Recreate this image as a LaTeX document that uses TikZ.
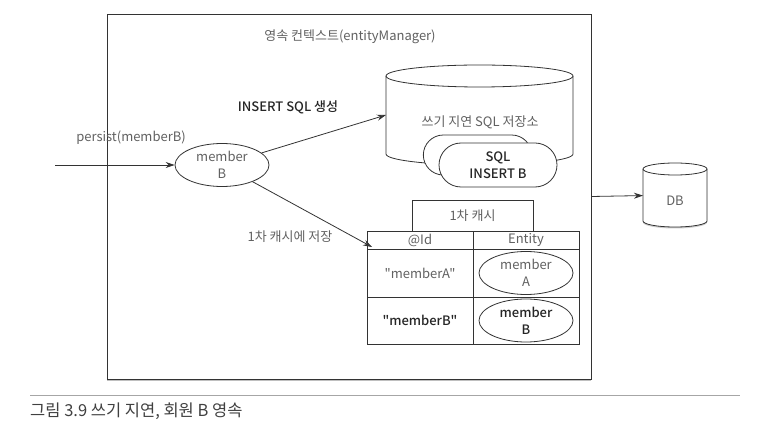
\documentclass[tikz,border=0pt]{standalone}
\usepackage{fontspec}
\setmainfont{Noto Sans CJK KR}[BoldFont={Noto Sans CJK KR Medium}, Ligatures=TeXOff]
\usetikzlibrary{positioning,shapes.geometric,shapes.misc,arrows.meta,shadows}

\newcommand\lblsize{\fontsize{13}{17}\selectfont}
% cylinder round a named node: name, x radius, y radius
\newcommand\drum[4][]{%
  \draw[line, fill=white, #1] ([yshift=-#4]#2.north west) -- ([yshift=#4]#2.south west)
    arc[start angle=180, end angle=360, x radius=#3, y radius=#4]
    -- ([yshift=-#4]#2.north east)
    arc[start angle=0, end angle=180, x radius=#3, y radius=#4] -- cycle;
  \draw[line] ([yshift=-#4]#2.north west)
    arc[start angle=180, end angle=360, x radius=#3, y radius=#4];}
\tikzset{
  line/.style={draw=black!80, line width=0.8pt},
  arr/.style={line, -{Stealth[length=9pt,width=6pt]}},
  txt/.style={text=black!62, font=\lblsize, inner sep=0pt},
  bold/.style={text=black!85, font=\lblsize\bfseries},
  ent/.style={ellipse, line, fill=white, minimum width=94, minimum height=43, align=center, txt},
  cell/.style={rectangle, line, outer sep=0pt, minimum width=106, txt},
  sqlbox/.style={rounded rectangle, line, fill=white, minimum width=118, minimum height=44},
  spot/.style={inner sep=0pt, outer sep=0pt},
}

\begin{document}
\begin{tikzpicture}[x=1pt,y=-1pt]
\useasboundingbox (0,0) rectangle (767,435);

% persistence context
\node[line, fill=white, minimum width=484, minimum height=365,
  drop shadow={shadow xshift=0pt, shadow yshift=-2pt, opacity=.5}] (ctx) at (349,196.5) {};
\node[txt] (ctxlbl) at (350,37) {영속 컨텍스트(entityManager)};

% write-behind SQL store
\node[spot, minimum width=187, minimum height=100] (store) at (479.5,115) {};
\drum{store}{93.5pt}{11pt}
\node[txt] (storelbl) at (480,122) {쓰기 지연 SQL 저장소};
\node[sqlbox, minimum width=115, minimum height=40] (sqla) at (477.5,155) {};
\node[sqlbox, txt, bold, align=center] (sqlb) at (498,165) {SQL\\INSERT B};

% first-level cache
\node[line, minimum width=121, minimum height=31, txt] (cache) at (472.5,215.5) {1차 캐시};
\node[cell, minimum height=18, anchor=north west] (hid) at (367,231) {@Id};
\node[cell, minimum height=18, right=0pt of hid] (hent) {Entity};
\node[cell, minimum height=48, below=0pt of hid] (ida) {"memberA"};
\node[cell, minimum height=48, below=0pt of hent] (enta) {};
\node[cell, bold, minimum height=47, below=0pt of ida] (idb) {"memberB"};
\node[cell, minimum height=47, below=0pt of enta] (entb) {};
\node[ent] (ma) at (enta) {member\\A};
\node[ent, bold] (mb) at (entb) {member\\B};

% entity
\node[ent] (memb) at (222,165) {member\\B};

% DB
\node[spot, minimum width=64, minimum height=64] (db) at (675,195) {};
\drum[drop shadow={shadow xshift=0pt, shadow yshift=-1.5pt, opacity=.4}]{db}{32pt}{6pt}
\node[txt] (dblbl) at (675,201) {DB};

% arrows
\coordinate (src) at (55,165);
\draw[arr] (src) -- (memb);
\node[txt] (persistlbl) at (131,138) {persist(memberB)};
\draw[arr] (memb) -- (store.west);
\node[txt, bold] (insertlbl) at (288,107) {INSERT SQL 생성};
\draw[arr] (memb) -- ([shift={(5,16)}]hid.north west);
\node[txt] (cachelbl) at (290,237) {1차 캐시에 저장};
\draw[arr] (ctx.east) -- (db);

% caption
\coordinate (capl) at (30,395);
\coordinate (capr) at (740,395);
\draw[black!35, line width=0.6pt] (capl) -- (capr);
\node[txt, text=black!75, font=\fontsize{16.5}{19}\selectfont, anchor=west] (cap) at (30,411) {그림 3.9 쓰기 지연, 회원 B 영속};
\end{tikzpicture}
\end{document}
